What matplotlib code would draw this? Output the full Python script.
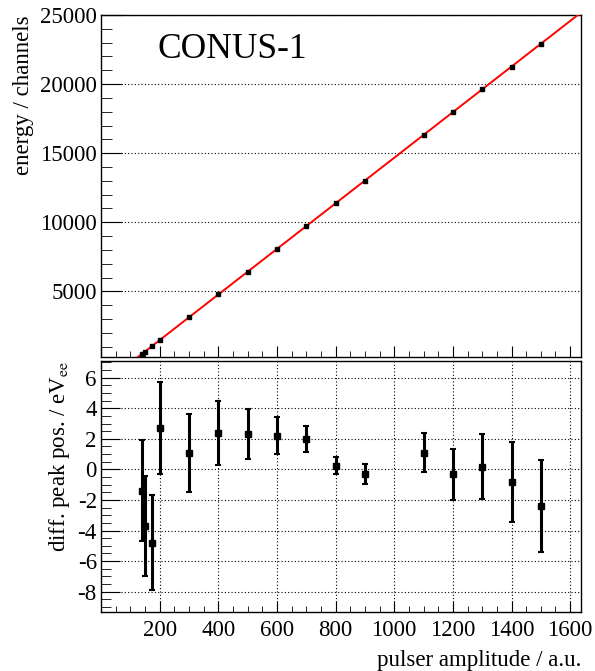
import numpy as np
import matplotlib
matplotlib.use("Agg")
import matplotlib.pyplot as plt
from matplotlib.ticker import MultipleLocator

# ---- data ----
amplitude = [140, 150, 175, 200, 300, 400, 500, 600, 700, 800, 900, 1100, 1200, 1300, 1400, 1500]
energy = [480, 645, 1058, 1470, 3120, 4783, 6418, 8061, 9720, 11370, 13020, 16320, 17970, 19620, 21259, 22923]
diff = [-1.4, -3.7, -4.8, 2.7, 1.1, 2.4, 2.3, 2.2, 2.0, 0.25, -0.3, 1.1, -0.32, 0.18, -0.84, -2.39]
diff_err = [3.3, 3.25, 3.1, 3.0, 2.55, 2.1, 1.65, 1.2, 0.85, 0.55, 0.65, 1.25, 1.68, 2.15, 2.6, 3.0]
label_text = "CONUS-1"

plt.rcParams['font.family'] = ['Liberation Serif', 'DejaVu Serif']
plt.rcParams['mathtext.fontset'] = 'stix'
plt.rcParams['axes.unicode_minus'] = False

W, H = 595, 671
fig = plt.figure(figsize=(W / 100, H / 100), dpi=100)

def box(l, t, r, b):
    return [l / W, 1 - b / H, (r - l) / W, (b - t) / H]

ax1 = fig.add_axes(box(101, 15, 581, 357))
ax2 = fig.add_axes(box(101, 361, 581, 612))

fs = 16.5
xlim = (0, 1637)

# --- top panel ---
fit = np.polyfit(amplitude, energy, 1)
xx = np.linspace(0, 1700, 200)
ax1.plot(xx, np.polyval(fit, xx), color='#ff0000', lw=1.4, zorder=3)
ax1.plot(amplitude, energy, 's', color='black', ms=3.3, zorder=4)
ax1.set_xlim(*xlim)
ax1.set_ylim(250, 25000)
ax1.yaxis.set_major_locator(MultipleLocator(5000))
ax1.yaxis.set_minor_locator(MultipleLocator(1000))
ax1.xaxis.set_major_locator(MultipleLocator(200))
ax1.xaxis.set_minor_locator(MultipleLocator(50))
ax1.set_yticks([5000, 10000, 15000, 20000, 25000])
ax1.grid(axis='y', which='major', linestyle=(0, (1, 2)), color='black', lw=0.8)
ax1.tick_params(axis='x', which='both', labelbottom=False, direction='in')
ax1.tick_params(axis='x', which='major', length=8)
ax1.tick_params(axis='x', which='minor', length=4)
ax1.tick_params(axis='y', which='major', length=15, direction='in', labelsize=fs, pad=3)
ax1.tick_params(axis='y', which='minor', length=8, direction='in')
ax1.set_ylabel('energy / channels', fontsize=fs, loc='top', labelpad=4)
ax1.text(0.118, 0.947, label_text, transform=ax1.transAxes, fontsize=25.5, va='top', ha='left')

# --- bottom panel ---
ax2.errorbar(amplitude, diff, yerr=diff_err, fmt='s', color='black', ms=4.5,
             elinewidth=2.2, capsize=2, capthick=1.5, zorder=4)
ax2.set_xlim(*xlim)
ax2.set_ylim(-9.33, 7.09)
ax2.xaxis.set_major_locator(MultipleLocator(200))
ax2.xaxis.set_minor_locator(MultipleLocator(50))
ax2.yaxis.set_major_locator(MultipleLocator(2))
ax2.yaxis.set_minor_locator(MultipleLocator(0.5))
ax2.set_xticks([200, 400, 600, 800, 1000, 1200, 1400, 1600])
ax2.set_yticks([-8, -6, -4, -2, 0, 2, 4, 6])
ax2.grid(which='major', linestyle=(0, (1, 2)), color='black', lw=0.8)
ax2.tick_params(axis='x', which='major', length=8, direction='in', labelsize=fs, pad=6)
ax2.tick_params(axis='x', which='minor', length=4, direction='in')
ax2.tick_params(axis='y', which='major', length=14, direction='in', labelsize=fs, pad=3)
ax2.tick_params(axis='y', which='minor', length=7, direction='in')
ax2.set_ylabel(r'diff. peak pos. / eV$_{\rm ee}$', fontsize=fs, loc='top', labelpad=4)
ax2.set_xlabel('pulser amplitude / a.u.', fontsize=fs, loc='right', labelpad=6)

for ax in (ax1, ax2):
    for s in ax.spines.values():
        s.set_linewidth(1.0)
    ax.set_axisbelow(True)

fig.savefig('out.png', dpi=100)
